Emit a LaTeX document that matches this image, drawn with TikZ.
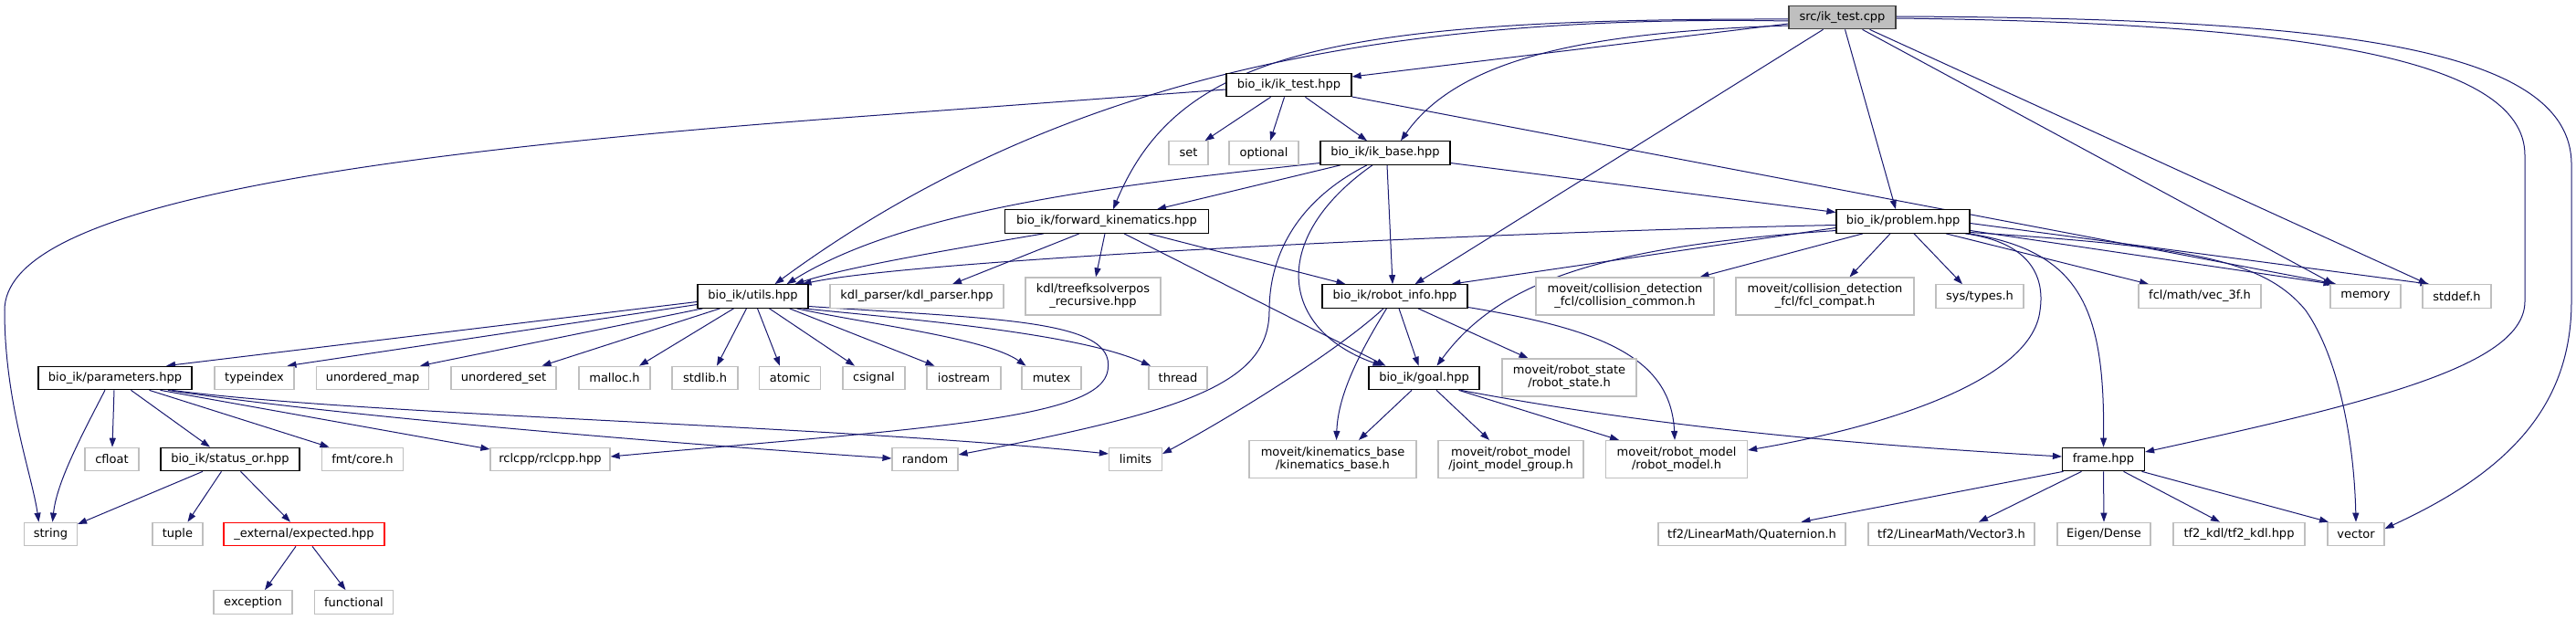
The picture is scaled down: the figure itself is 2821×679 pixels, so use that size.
\documentclass[tikz,border=0pt]{standalone}
\usepackage{fontspec}
\setmainfont{DejaVu Sans}
\usetikzlibrary{arrows.meta}
\definecolor{edgec}{HTML}{191970}
\definecolor{extc}{HTML}{BFBFBF}
\definecolor{srcfill}{HTML}{BFBFBF}
\definecolor{srcline}{HTML}{404040}
\definecolor{redc}{HTML}{FF0000}
\pgfdeclarelayer{back}
\pgfdeclarelayer{bg}
\pgfsetlayers{back,bg,main}
\begin{document}
\begin{tikzpicture}[x=1pt,y=-1pt,
 box/.style={draw, rectangle, inner sep=0pt, minimum height=25.5pt, font=\fontsize{13}{14}\selectfont, align=center, fill=white},
 proj/.style={box, draw=black, line width=1.2pt},
 ext/.style={box, draw=extc, line width=1.2pt},
 srcn/.style={box, draw=srcline, fill=srcfill, line width=1.2pt},
 bad/.style={box, draw=redc, line width=1.2pt},
 two/.style={minimum height=41pt},
 e/.style={draw=edgec, line width=1pt, -{Triangle[length=10pt,width=7pt]}}]
\begin{pgfonlayer}{back}
\fill[white] (0,0) rectangle (2821,679);
\end{pgfonlayer}
\useasboundingbox (0,0) rectangle (2821,679);

% row 0-3
\node[srcn, minimum width=117pt] (src) at (2017.5,19) {src/ik\_test.cpp};
\node[proj, minimum width=137pt] (iktest) at (1411.5,93) {bio\_ik/ik\_test.hpp};
\node[ext, minimum width=43pt] (set) at (1301.5,167.5) {set};
\node[ext, minimum width=76pt] (optional) at (1384,167.5) {optional};
\node[proj, minimum width=142pt] (ikbase) at (1517,167.5) {bio\_ik/ik\_base.hpp};
\node[proj, minimum width=223pt] (fk) at (1212,242.5) {bio\_ik/forward\_kinematics.hpp};
\node[proj, minimum width=146pt] (problem) at (2084,242.5) {bio\_ik/problem.hpp};
% row 4
\node[proj, minimum width=121pt] (utils) at (824.5,324.5) {bio\_ik/utils.hpp};
\node[ext, minimum width=190pt] (kdlparser) at (1004,324.5) {kdl\_parser/kdl\_parser.hpp};
\node[ext, two, minimum width=148pt] (treefk) at (1197,324.5) {kdl/treefksolverpos\\\_recursive.hpp};
\node[proj, minimum width=159pt] (robotinfo) at (1527.5,324.5) {bio\_ik/robot\_info.hpp};
\node[ext, two, minimum width=195pt] (collcommon) at (1779.5,324.5) {moveit/collision\_detection\\\_fcl/collision\_common.h};
\node[ext, two, minimum width=195pt] (fclcompat) at (1998.5,324.5) {moveit/collision\_detection\\\_fcl/fcl\_compat.h};
\node[ext, minimum width=96pt] (systypes) at (2168,324.5) {sys/types.h};
\node[ext, minimum width=134pt] (vec3f) at (2409,324.5) {fcl/math/vec\_3f.h};
\node[ext, minimum width=77pt] (memory) at (2590.5,324.5) {memory};
\node[ext, minimum width=75pt] (stddef) at (2690.5,324.5) {stddef.h};
% row 5
\node[proj, minimum width=168pt] (parameters) at (126,414) {bio\_ik/parameters.hpp};
\node[ext, minimum width=87pt] (typeindex) at (278.5,414) {typeindex};
\node[ext, minimum width=123pt] (umap) at (408,414) {unordered\_map};
\node[ext, minimum width=115pt] (uset) at (551.5,414) {unordered\_set};
\node[ext, minimum width=78pt] (malloc) at (673,414) {malloc.h};
\node[ext, minimum width=72pt] (stdlib) at (772,414) {stdlib.h};
\node[ext, minimum width=67pt] (atomic) at (865,414) {atomic};
\node[ext, minimum width=68pt] (csignal) at (957,414) {csignal};
\node[ext, minimum width=81pt] (iostream) at (1055.5,414) {iostream};
\node[ext, minimum width=65pt] (mutex) at (1151.5,414) {mutex};
\node[ext, minimum width=64pt] (thread) at (1290,414) {thread};
\node[proj, minimum width=121pt] (goal) at (1559.5,414) {bio\_ik/goal.hpp};
\node[ext, two, minimum width=147pt] (robotstate) at (1718.5,413.5) {moveit/robot\_state\\/robot\_state.h};
% row 6
\node[ext, minimum width=59pt] (cfloat) at (122.5,503) {cfloat};
\node[proj, minimum width=152pt] (statusor) at (252,503) {bio\_ik/status\_or.hpp};
\node[ext, minimum width=89pt] (fmtcore) at (397,503) {fmt/core.h};
\node[ext, minimum width=131pt] (rclcpp) at (602.5,503) {rclcpp/rclcpp.hpp};
\node[ext, minimum width=72pt] (random) at (1013,503) {random};
\node[ext, minimum width=58pt] (limits) at (1243.5,503) {limits};
\node[ext, two, minimum width=183pt] (kinbase) at (1459.5,503) {moveit/kinematics\_base\\/kinematics\_base.h};
\node[ext, two, minimum width=159pt] (jmg) at (1654.5,503) {moveit/robot\_model\\/joint\_model\_group.h};
\node[ext, two, minimum width=155pt] (robotmodel) at (1836,503) {moveit/robot\_model\\/robot\_model.h};
\node[proj, minimum width=90pt] (frame) at (2303.5,503) {frame.hpp};
% row 7
\node[ext, minimum width=58pt] (string) at (55.5,585) {string};
\node[ext, minimum width=55pt] (tuple) at (194.5,585) {tuple};
\node[bad, minimum width=176pt] (expected) at (333,585) {\_external/expected.hpp};
\node[ext, minimum width=205pt] (quat) at (1918.5,585) {tf2/LinearMath/Quaternion.h};
\node[ext, minimum width=182pt] (vec3) at (2137,585) {tf2/LinearMath/Vector3.h};
\node[ext, minimum width=102pt] (eigen) at (2304,585) {Eigen/Dense};
\node[ext, minimum width=144pt] (tf2kdl) at (2452,585) {tf2\_kdl/tf2\_kdl.hpp};
\node[ext, minimum width=62pt] (vector) at (2580,585) {vector};
% row 8
\node[ext, minimum width=86pt] (exception) at (277,659.5) {exception};
\node[ext, minimum width=86pt] (functional) at (387.5,659.5) {functional};

\begin{pgfonlayer}{bg}
% src
\draw[e] ([yshift=-7pt]src.west) -- ([yshift=9pt]iktest.east);
\draw[e] ([yshift=-2pt]src.west) .. controls (1450,20) and (1290,60) .. ([xshift=7pt]fk.north);
\draw[e] ([yshift=-4pt]src.west) .. controls (1500,15) and (1150,90) .. ([xshift=24pt]utils.north);
\draw[e] ([yshift=-9pt]src.west) .. controls (1750,35) and (1600,60) .. ([xshift=17pt]ikbase.north);
\draw[e] ([xshift=-21pt]src.south) -- ([xshift=22pt]robotinfo.north);
\draw[e] ([xshift=3pt]src.south) -- ([xshift=-8pt]problem.north);
\draw[e] ([xshift=22pt]src.south) -- ([xshift=-35pt]memory.north);
\draw[e] ([xshift=30pt]src.south) -- ([xshift=-32pt]stddef.north);
\draw[e] ([yshift=-1pt]src.east) .. controls (2500,25) and (2765,60) .. (2765,170) -- (2765,330) .. controls (2765,400) and (2600,440) .. ([yshift=8pt]frame.east);
\draw[e] ([yshift=1pt]src.east) .. controls (2550,20) and (2816,50) .. (2816,180) -- (2816,330) .. controls (2816,450) and (2740,520) .. ([yshift=6pt]vector.east);
% ik_test.hpp
\draw[e] ([yshift=-5pt]iktest.west) -- (950,127) .. controls (350,171) and (5,230) .. (5,340) .. controls (5,440) and (35,520) .. ([xshift=-13pt]string.north);
\draw[e] ([xshift=-20pt]iktest.south) -- ([xshift=18pt]set.north);
\draw[e] ([xshift=-5pt]iktest.south) -- ([xshift=7pt]optional.north);
\draw[e] ([xshift=18pt]iktest.south) -- ([xshift=-20pt]ikbase.north);
\draw[e] ([yshift=-13pt]iktest.east) -- ([xshift=-32pt]memory.north);
% ik_base.hpp
\draw[e] ([xshift=-49pt]ikbase.south) -- ([xshift=55pt]fk.north);
\draw[e] ([yshift=-11pt]ikbase.west) .. controls (1250,200) and (1000,225) .. ([xshift=37pt]utils.north);
\draw[e] ([xshift=2pt]ikbase.south) -- ([xshift=-2.5pt]robotinfo.north);
\draw[e] ([xshift=-20pt]ikbase.south) .. controls (1420,220) and (1390,280) .. (1390,340) .. controls (1390,420) and (1300,450) .. ([yshift=5pt]random.east);
\draw[e] ([xshift=-14pt]ikbase.south) .. controls (1390,260) and (1400,360) .. ([xshift=-46pt]goal.north);
\draw[e] ([yshift=-11pt]ikbase.east) -- ([yshift=10pt]problem.west);
% forward_kinematics.hpp
\draw[e] ([xshift=-69pt]fk.south) .. controls (1000,280) and (920,295) .. ([xshift=46pt]utils.north);
\draw[e] ([xshift=-30pt]fk.south) -- ([xshift=39pt]kdlparser.north);
\draw[e] ([xshift=-2pt]fk.south) -- ([xshift=3pt]treefk.north);
\draw[e] ([xshift=46pt]fk.south) -- ([xshift=-54pt]robotinfo.north);
\draw[e] ([xshift=19pt]fk.south) -- ([xshift=-42pt]goal.north);
% problem.hpp
\draw[e] ([yshift=-4pt]problem.west) .. controls (1600,255) and (1000,285) .. ([xshift=54pt]utils.north);
\draw[e] ([yshift=-7pt]problem.west) -- ([xshift=62pt]robotinfo.north);
\draw[e] ([yshift=-10pt]problem.west) .. controls (1750,270) and (1640,310) .. ([xshift=14pt]goal.north);
\draw[e] ([xshift=-44pt]problem.south) -- ([xshift=82pt]collcommon.north);
\draw[e] ([xshift=-14pt]problem.south) -- ([xshift=27pt]fclcompat.north);
\draw[e] ([xshift=12pt]problem.south) -- ([xshift=-19pt]systypes.north);
\draw[e] ([xshift=47pt]problem.south) -- ([xshift=-56pt]vec3f.north);
\draw[e] ([yshift=-10pt]problem.east) -- ([xshift=-36pt]memory.north);
\draw[e] ([yshift=-2pt]problem.east) -- ([xshift=-30pt]stddef.north);
\draw[e] ([xshift=68pt]problem.south) .. controls (2220,265) and (2240,300) .. (2234,340) .. controls (2225,420) and (2050,470) .. ([yshift=10pt]robotmodel.east);
\draw[e] ([xshift=72pt]problem.south) .. controls (2280,275) and (2305,340) .. (frame.north);
\draw[e] ([yshift=-12pt]problem.east) .. controls (2400,270) and (2480,285) .. (2525,340) .. controls (2560,390) and (2578,480) .. (vector.north);
% goal.hpp
\draw[e] ([xshift=-13.5pt]goal.south) -- ([xshift=28.5pt]kinbase.north);
\draw[e] ([xshift=13.5pt]goal.south) -- ([xshift=-23.5pt]jmg.north);
\draw[e] ([xshift=38pt]goal.south) -- ([xshift=-63pt]robotmodel.north);
\draw[e] ([xshift=40pt]goal.south) .. controls (1800,465) and (2000,485) .. ([yshift=3pt]frame.west);
% robot_info.hpp
\draw[e] ([xshift=-12.5pt]robotinfo.south) .. controls (1470,380) and (1360,450) .. ([yshift=6pt]limits.east);
\draw[e] ([xshift=-9pt]robotinfo.south) .. controls (1480,400) and (1465,440) .. ([xshift=4pt]kinbase.north);
\draw[e] ([xshift=4.5pt]robotinfo.south) -- ([xshift=-6pt]goal.north);
\draw[e] ([xshift=25.5pt]robotinfo.south) -- ([xshift=-45pt]robotstate.north);
\draw[e] ([yshift=-12pt]robotinfo.east) .. controls (1750,360) and (1830,390) .. ([xshift=-2pt]robotmodel.north);
% utils.hpp
\draw[e] ([yshift=-6pt]utils.west) -- ([xshift=56pt]parameters.north);
\draw[e] ([yshift=-9pt]utils.west) -- ([xshift=36pt]typeindex.north);
\draw[e] ([xshift=-55pt]utils.south) -- ([xshift=52pt]umap.north);
\draw[e] ([xshift=-36pt]utils.south) -- ([xshift=42pt]uset.north);
\draw[e] ([xshift=-21pt]utils.south) -- ([xshift=27pt]malloc.north);
\draw[e] ([xshift=-7pt]utils.south) -- ([xshift=13pt]stdlib.north);
\draw[e] ([xshift=5pt]utils.south) -- ([xshift=-11pt]atomic.north);
\draw[e] ([xshift=18pt]utils.south) -- ([xshift=-21pt]csignal.north);
\draw[e] ([xshift=40pt]utils.south) -- ([xshift=-32pt]iostream.north);
\draw[e] ([xshift=48pt]utils.south) .. controls (950,355) and (1080,370) .. ([xshift=-28pt]mutex.north);
\draw[e] ([xshift=55pt]utils.south) .. controls (1000,350) and (1180,365) .. ([xshift=-30pt]thread.north);
\draw[e] ([yshift=-11pt]utils.east) .. controls (1100,350) and (1230,350) .. (1212,410) .. controls (1195,460) and (1000,470) .. ([yshift=3pt]rclcpp.east);
% parameters.hpp
\draw[e] ([xshift=-11pt]parameters.south) .. controls (85,485) and (62,530) .. ([xshift=2pt]string.north);
\draw[e] ([xshift=-1pt]parameters.south) -- ([xshift=0.5pt]cfloat.north);
\draw[e] ([xshift=17.5pt]parameters.south) -- ([xshift=-22pt]statusor.north);
\draw[e] ([xshift=37.5pt]parameters.south) -- ([xshift=-36.5pt]fmtcore.north);
\draw[e] ([xshift=49.5pt]parameters.south) -- ([yshift=11pt]rclcpp.west);
\draw[e] ([xshift=58pt]parameters.south) .. controls (400,460) and (800,490) .. ([yshift=1pt]random.west);
\draw[e] ([xshift=62pt]parameters.south) .. controls (400,455) and (900,465) .. ([yshift=6pt]limits.west);
% status_or.hpp / expected.hpp
\draw[e] ([xshift=-30pt]statusor.south) -- ([yshift=11pt]string.east);
\draw[e] ([xshift=-9.5pt]statusor.south) -- ([xshift=11pt]tuple.north);
\draw[e] ([xshift=11.5pt]statusor.south) -- ([xshift=-15pt]expected.north);
\draw[e] ([xshift=-9pt]expected.south) -- ([xshift=13pt]exception.north);
\draw[e] ([xshift=9pt]expected.south) -- ([xshift=-9pt]functional.north);
% frame.hpp
\draw[e] ([xshift=-44pt]frame.south) -- ([xshift=54pt]quat.north);
\draw[e] ([xshift=-24pt]frame.south) -- ([xshift=30pt]vec3.north);
\draw[e] (frame.south) -- (eigen.north);
\draw[e] ([xshift=22pt]frame.south) -- ([xshift=-21pt]tf2kdl.north);
\draw[e] ([xshift=42pt]frame.south) -- ([xshift=-30pt]vector.north);
\end{pgfonlayer}
\end{tikzpicture}
\end{document}
